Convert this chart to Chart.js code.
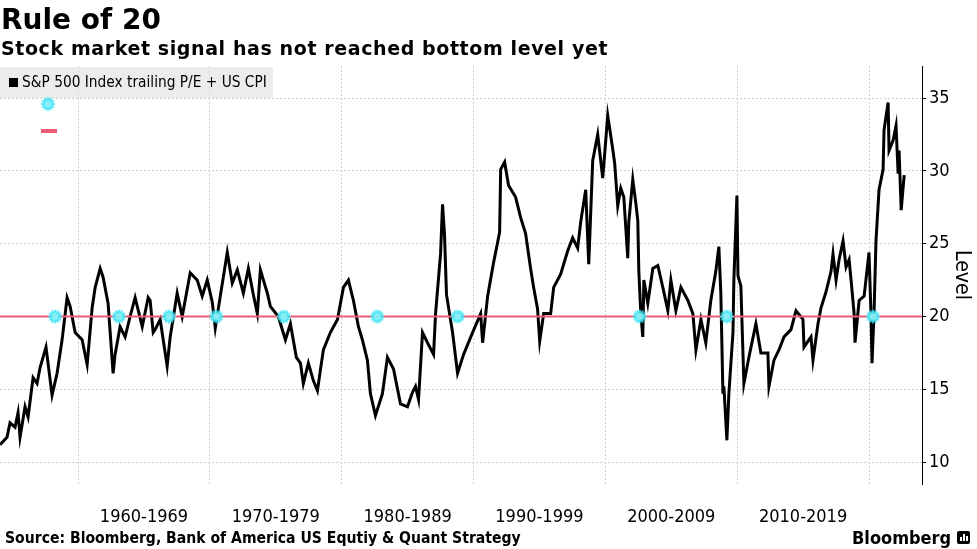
<!DOCTYPE html>
<html>
<head>
<meta charset="utf-8">
<script src="https://cdn.jsdelivr.net/npm/chart.js@4/dist/chart.umd.min.js"></script>
<style>
  html, body { margin: 0; padding: 0; background: #fff; }
  #wrap { position: relative; width: 977px; height: 549px; overflow: hidden; }
  #chart { position: absolute; left: 0; top: 0; }
  .txt { position: absolute; white-space: nowrap; color: #000; }
  #title { left: 1px; top: 4px; font: bold 28px/32px "DejaVu Sans", sans-serif; }
  #subtitle { left: 1px; top: 37px; font: bold 19px/22px "DejaVu Sans", sans-serif; letter-spacing: 0.6px; }
  #legendBox { position: absolute; left: 0; top: 67px; width: 273px; height: 31px; background: rgba(224,224,224,0.6); }
  #legendSwatch { position: absolute; left: 9px; top: 78px; width: 9px; height: 9px; background: #000; }
  #legendText { left: 22px; top: 73px; font: 15.3px/18px "DejaVu Sans Condensed", "DejaVu Sans", sans-serif; }
  #legendStar { position: absolute; left: 40px; top: 96px; }
  #legendRule { position: absolute; left: 41px; top: 129px; width: 16px; height: 4px; background: #ee5d73; }
  #source { left: 5px; top: 529px; font: bold 15.6px/18px "DejaVu Sans Condensed", "DejaVu Sans", sans-serif; }
  #brand { left: 852px; top: 527px; font: bold 18px/22px "DejaVu Sans Condensed", "DejaVu Sans", sans-serif; }
  #brandIcon { position: absolute; left: 957px; top: 531px; width: 13px; height: 13px; background: #000; border-radius: 2px; }
  #brandIcon i { position: absolute; bottom: 3px; width: 2px; background: #fff; }
</style>
</head>
<body>
<div id="wrap">
  <canvas id="chart" width="977" height="549"></canvas>
  <div id="title" class="txt">Rule of 20</div>
  <div id="subtitle" class="txt">Stock market signal has not reached bottom level yet</div>
  <div id="legendBox"></div>
  <div id="legendSwatch"></div>
  <div id="legendText" class="txt">S&amp;P 500 Index trailing P/E + US CPI</div>
  <canvas id="legendStar" width="16" height="16"></canvas>
  <div id="legendRule"></div>
  <div id="source" class="txt">Source: Bloomberg, Bank of America US Equtiy &amp; Quant Strategy</div>
  <div id="brand" class="txt">Bloomberg</div>
  <div id="brandIcon"><i style="left:3px;height:4px"></i><i style="left:6px;height:7px"></i><i style="left:9px;height:5px"></i></div>
</div>
<script>
// trailing P/E + CPI (year, level)
const peYears = [
  1954.08, 1954.61, 1954.84, 1955.22, 1955.45, 1955.60, 1955.98, 1956.21, 1956.59, 1956.89,
  1957.12, 1957.57, 1958.03, 1958.41, 1958.79, 1959.17, 1959.40, 1959.78, 1960.31, 1960.69,
  1961.07, 1961.30, 1961.68, 1961.90, 1962.28, 1962.66, 1962.81, 1963.19, 1963.57, 1963.95,
  1964.33, 1964.87, 1965.32, 1965.47, 1965.70, 1965.85, 1966.23, 1966.76, 1966.99, 1967.52,
  1967.90, 1968.51, 1969.04, 1969.42, 1969.80, 1970.18, 1970.41, 1970.79, 1971.32, 1971.70,
  1972.08, 1972.54, 1972.92, 1973.30, 1973.60, 1973.83, 1974.36, 1974.59, 1975.19, 1975.73,
  1976.11, 1976.56, 1976.87, 1977.09, 1977.47, 1977.85, 1978.16, 1978.38, 1978.61, 1979.14,
  1979.68, 1980.13, 1980.51, 1980.89, 1981.27, 1981.57, 1981.95, 1982.18, 1982.56, 1983.09,
  1983.47, 1983.93, 1984.46, 1984.99, 1985.37, 1985.60, 1985.83, 1986.13, 1986.51, 1986.97,
  1987.12, 1987.50, 1987.65, 1987.80, 1987.95, 1988.41, 1988.79, 1989.25, 1989.93, 1990.54,
  1990.69, 1991.07, 1991.52, 1991.83, 1991.98, 1992.06, 1992.36, 1992.66, 1993.19, 1993.57,
  1993.95, 1994.33, 1994.56, 1994.86, 1995.02, 1995.32, 1995.85, 1996.08, 1996.61, 1997.14,
  1997.52, 1997.90, 1998.13, 1998.51, 1998.74, 1999.04, 1999.42, 1999.80, 2000.03, 2000.18,
  2000.56, 2000.71, 2000.94, 2001.17, 2001.40, 2001.70, 2001.78, 2002.08, 2002.31, 2002.46,
  2002.54, 2002.69, 2002.84, 2002.92, 2003.22, 2003.60, 2003.98, 2004.36, 2004.74, 2004.97,
  2005.35, 2005.73, 2006.26, 2006.64, 2006.87, 2007.25, 2007.62, 2008.00, 2008.38, 2008.61,
  2008.76, 2008.92, 2008.99, 2009.22, 2009.37, 2009.68, 2009.75, 2009.98, 2010.06, 2010.28,
  2010.51, 2010.89, 2011.42, 2011.80, 2012.33, 2012.41, 2012.79, 2013.17, 2013.55, 2014.08,
  2014.46, 2014.99, 2015.07, 2015.60, 2015.75, 2016.13, 2016.36, 2016.74, 2017.12, 2017.27,
  2017.50, 2017.73, 2018.03, 2018.26, 2018.49, 2018.64, 2018.87, 2018.94, 2019.25, 2019.63,
  2020.00, 2020.15, 2020.23, 2020.38, 2020.53, 2020.76, 2021.07, 2021.14, 2021.45, 2021.52,
  2021.83, 2022.05, 2022.21, 2022.28, 2022.44, 2022.67
];
const peValues = [
  11.2, 11.7, 12.7, 12.4, 13.4, 11.7, 13.8, 13.1, 15.8, 15.4,
  16.5, 17.9, 14.6, 16.1, 18.4, 21.3, 20.7, 18.9, 18.4, 16.7,
  20.6, 22.0, 23.3, 22.7, 20.9, 16.1, 17.4, 19.3, 18.6, 20.0,
  21.3, 19.3, 21.3, 21.1, 18.9, 19.1, 19.8, 16.6, 18.6, 21.6,
  20.0, 23.0, 22.5, 21.4, 22.5, 21.0, 19.2, 21.4, 24.4, 22.3,
  23.2, 21.6, 23.3, 21.5, 20.2, 23.2, 21.6, 20.7, 20.0, 18.4,
  19.5, 17.2, 16.8, 15.4, 16.8, 15.6, 14.9, 16.3, 17.7, 18.9,
  19.8, 22.0, 22.5, 21.1, 19.3, 18.4, 17.0, 14.7, 13.2, 14.7,
  17.2, 16.4, 14.0, 13.8, 14.8, 15.2, 14.3, 18.9, 18.2, 17.4,
  20.2, 24.3, 27.7, 25.6, 21.5, 18.9, 16.1, 17.4, 18.9, 20.2,
  18.2, 21.4, 23.7, 25.1, 25.8, 30.1, 30.6, 29.0, 28.2, 26.8,
  25.7, 23.3, 22.0, 20.5, 18.3, 20.2, 20.2, 22.0, 22.9, 24.5,
  25.4, 24.7, 26.5, 28.7, 23.6, 30.7, 32.5, 29.5, 32.1, 33.8,
  31.5, 30.5, 27.6, 28.8, 28.2, 24.0, 26.5, 29.4, 27.8, 26.6,
  23.1, 20.2, 18.6, 22.5, 20.9, 23.3, 23.5, 22.0, 20.4, 22.5,
  20.4, 22.0, 21.1, 20.2, 17.7, 19.8, 18.2, 21.1, 23.1, 24.8,
  21.6, 14.7, 15.2, 11.5, 14.7, 18.9, 22.5, 28.3, 22.8, 22.1,
  15.4, 17.2, 19.5, 17.5, 17.5, 15.2, 17.0, 17.7, 18.6, 19.1,
  20.4, 19.8, 17.9, 18.6, 17.0, 19.5, 20.6, 21.7, 23.1, 24.3,
  22.5, 23.9, 25.2, 23.4, 23.9, 22.5, 20.2, 18.2, 21.1, 21.4,
  24.4, 20.2, 16.8, 20.2, 25.2, 28.7, 30.1, 32.8, 34.7, 31.4,
  32.1, 33.1, 29.8, 31.4, 27.3, 29.7
];
// dates where the series crosses the rule level (cyan markers)
const signalYears = [1958.26, 1963.1, 1966.9, 1970.5, 1975.6, 1982.7, 1988.8, 2002.6, 2009.2, 2020.3];
const ruleLevel = 20;

const xMin = 1954.08;
const xMax = 2024.02;
const decadeStarts = [1960, 1970, 1980, 1990, 2000, 2010, 2020];
const decadeLabels = ['1960-1969', '1970-1979', '1980-1989', '1990-1999', '2000-2009', '2010-2019'];
const yTicks = [10, 15, 20, 25, 30, 35];

const lineColor = '#000000';
const ruleColor = '#ee5d73';
const starColor = 'rgba(62,228,243,0.9)';
const gridColor = '#cfcfcf';
const axisFont = "'DejaVu Sans Condensed', 'DejaVu Sans', sans-serif";

function drawStar(g, cx, cy) {
  g.beginPath();
  for (let i = 0; i < 24; i++) {
    const r = i % 2 === 0 ? 7.6 : 5.4;
    const a = i * Math.PI / 12;
    g.lineTo(cx + r * Math.cos(a), cy + r * Math.sin(a));
  }
  g.closePath();
  g.fillStyle = starColor;
  g.fill();
  g.beginPath();
  g.arc(cx, cy, 3.5, 0, Math.PI * 2);
  g.fillStyle = 'rgba(150,240,248,0.8)';
  g.fill();
}

const starImg = document.createElement('canvas');
starImg.width = 16;
starImg.height = 16;
drawStar(starImg.getContext('2d'), 8, 8);
drawStar(document.getElementById('legendStar').getContext('2d'), 8, 8);

// x ticks: decade starts carry the grid, mid-decade ticks carry the labels
const xTickValues = [];
decadeStarts.forEach(d => {
  xTickValues.push(d);
  if (d + 5 < xMax) xTickValues.push(d + 5);
});

new Chart(document.getElementById('chart'), {
  type: 'line',
  data: {
    datasets: [
      {
        label: 'S&P 500 Index trailing P/E + US CPI',
        data: peYears.map((x, i) => ({ x, y: peValues[i] })),
        borderColor: lineColor,
        borderWidth: 3,
        pointRadius: 0,
        tension: 0,
        order: 3
      },
      {
        label: 'Rule',
        data: [{ x: xMin, y: ruleLevel }, { x: xMax, y: ruleLevel }],
        borderColor: ruleColor,
        borderWidth: 2,
        pointRadius: 0,
        order: 2
      },
      {
        label: 'Signal',
        data: signalYears.map(x => ({ x, y: ruleLevel })),
        showLine: false,
        pointStyle: starImg,
        pointRadius: 8,
        order: 1
      }
    ]
  },
  options: {
    responsive: false,
    animation: false,
    events: [],
    layout: { autoPadding: false, padding: { top: 66, bottom: 20, left: 0, right: 0 } },
    plugins: { legend: { display: false }, tooltip: { enabled: false } },
    scales: {
      x: {
        type: 'linear',
        min: xMin,
        max: xMax,
        afterBuildTicks: scale => { scale.ticks = xTickValues.map(v => ({ value: v })); },
        afterFit: scale => { scale.height = 45; },
        grid: {
          color: ctx => (ctx.tick && ctx.tick.value % 10 === 0 ? gridColor : 'rgba(0,0,0,0)'),
          lineWidth: 1,
          drawTicks: false
        },
        border: { display: false, dash: [2, 2] },
        ticks: {
          autoSkip: false,
          maxRotation: 0,
          padding: 23,
          color: '#000',
          font: { family: axisFont, size: 18 },
          callback: v => (v % 10 === 5 ? decadeLabels[decadeStarts.indexOf(v - 5)] || '' : '')
        }
      },
      y: {
        position: 'right',
        min: 8.5,
        max: 37.2,
        afterBuildTicks: scale => { scale.ticks = yTicks.map(v => ({ value: v })); },
        afterFit: scale => { scale.width = 55; },
        grid: {
          color: gridColor,
          lineWidth: 1,
          drawTicks: true,
          tickLength: 4,
          tickColor: '#000',
          tickBorderDash: []
        },
        border: { display: true, color: '#000', width: 1, dash: [2, 2] },
        ticks: {
          padding: 3,
          color: '#000',
          font: { family: axisFont, size: 18 }
        },
        title: {
          display: true,
          text: 'Level',
          color: '#000',
          padding: { top: 3, bottom: 0 },
          font: { family: axisFont, size: 21 }
        }
      }
    }
  }
});
</script>
</body>
</html>
